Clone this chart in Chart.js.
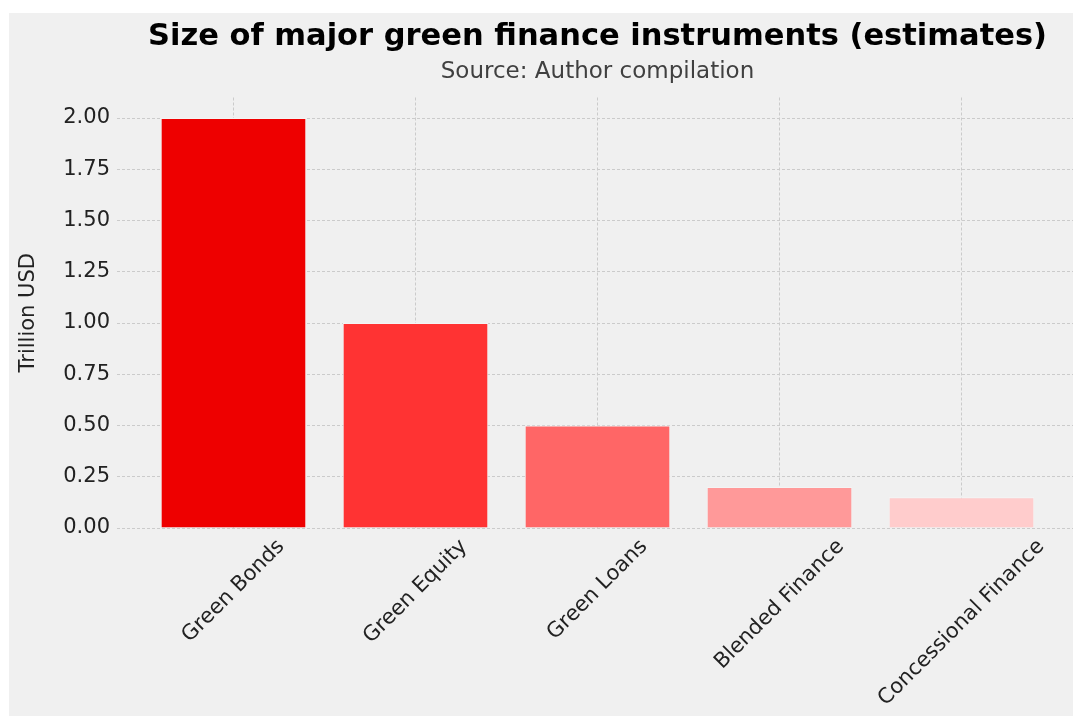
<!DOCTYPE html>
<html>
<head>
<meta charset="utf-8">
<script src="https://cdn.jsdelivr.net/npm/chart.js@4"></script>
<style>
    body{
        margin: 0;
        background: #ffffff;
        overflow: hidden;
    }
    #sketch-holder{
        position: absolute;
        left: 9px;
        top: 13px;
        width: 1177px;
        height: 703px;
        background: #f0f0f0;
    }
</style>
</head>
<body>
<div id="sketch-holder">
    <canvas id="greenFinanceChart" width="1177" height="703"></canvas>
</div>
<script>
const categories = ['Green Bonds', 'Green Equity', 'Green Loans', 'Blended Finance', 'Concessional Finance']
const values = [2.0, 1.0, 0.5, 0.2, 0.15]
const barColors = ['#ee0000', '#ff3333', '#ff6666', '#ff9999', '#ffcccc']
const yTicks = [0, 0.25, 0.5, 0.75, 1.0, 1.25, 1.5, 1.75, 2.0]

const FONT = "'DejaVu Sans', sans-serif"
const TICK_SIZE = 21

// rotated category labels, centred under each bar like matplotlib does it
const rotatedLabels = {
    id: 'rotatedLabels',
    afterDraw(chart){
        var ctx = chart.ctx
        var xScale = chart.scales.x
        ctx.save()
        ctx.font = TICK_SIZE + 'px ' + FONT
        ctx.fillStyle = '#222222'
        ctx.textAlign = 'center'
        ctx.textBaseline = 'middle'
        for (var i = 0; i < categories.length; i++){
            var w = ctx.measureText(categories[i]).width
            var side = (w + 15) / Math.SQRT2
            var cx = xScale.getPixelForValue(i)
            var cy = chart.chartArea.bottom + 10 + side / 2
            ctx.save()
            ctx.translate(cx, cy)
            ctx.rotate(-Math.PI / 4)
            ctx.fillText(categories[i], 0, 0)
            ctx.restore()
        }
        ctx.restore()
    }
}

var points = []
for (var i = 0; i < values.length; i++){
    points.push({x: i, y: values[i]})
}

var ctx = document.getElementById('greenFinanceChart').getContext('2d')
var chart = new Chart(ctx, {
    type: 'bar',
    data: {
        datasets: [{
            data: points,
            backgroundColor: barColors,
            borderColor: '#f4f4f4',
            borderWidth: 1,
            barPercentage: 0.8,
            categoryPercentage: 1.0
        }]
    },
    plugins: [rotatedLabels],
    options: {
        responsive: false,
        animation: false,
        layout: {
            padding: 0
        },
        scales: {
            x: {
                type: 'linear',
                min: -0.64,
                max: 4.64,
                offset: false,
                afterBuildTicks(axis){
                    axis.ticks = categories.map((c, i) => ({value: i}))
                },
                afterFit(axis){
                    axis.height = 188
                },
                ticks: {
                    display: false
                },
                grid: {
                    offset: false,
                    color: '#cbcbcb',
                    lineWidth: 1,
                    drawTicks: false
                },
                border: {
                    display: false,
                    dash: [3, 2]
                }
            },
            y: {
                min: 0,
                max: 2.1,
                afterBuildTicks(axis){
                    axis.ticks = yTicks.map(v => ({value: v}))
                },
                afterFit(axis){
                    axis.width = 108
                },
                ticks: {
                    padding: 7,
                    color: '#222222',
                    font: {family: FONT, size: TICK_SIZE},
                    callback: v => v.toFixed(2)
                },
                grid: {
                    color: '#cbcbcb',
                    lineWidth: 1,
                    drawTicks: false
                },
                border: {
                    display: false,
                    dash: [3, 2]
                },
                title: {
                    display: true,
                    text: 'Trillion USD',
                    color: '#222222',
                    font: {family: FONT, size: 21},
                    padding: {top: 7, bottom: 0}
                }
            },
            // empty box on the right so the plot runs past the window edge
            spacer: {
                type: 'linear',
                position: 'right',
                afterFit(axis){
                    axis.width = 108
                },
                ticks: {
                    display: false
                },
                grid: {
                    display: false
                },
                border: {
                    display: false
                }
            }
        },
        plugins: {
            legend: {
                display: false
            },
            tooltip: {
                enabled: false
            },
            title: {
                display: true,
                text: 'Size of major green finance instruments (estimates)',
                color: '#000000',
                font: {family: FONT, size: 30.5, weight: 'bold'},
                padding: {top: 5.7, bottom: 0}
            },
            subtitle: {
                display: true,
                text: 'Source: Author compilation',
                color: '#404040',
                font: {family: FONT, size: 23},
                padding: {top: 2.9, bottom: 11.7}
            }
        }
    }
})
</script>
</body>
</html>
